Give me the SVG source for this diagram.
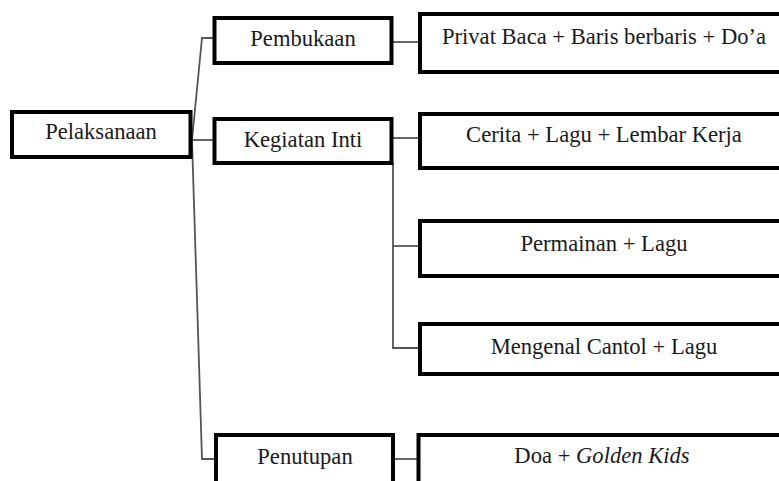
<svg xmlns="http://www.w3.org/2000/svg" width="779" height="481" viewBox="0 0 779 481">
<style>
.box{fill:#fff;stroke:#000;stroke-width:4}
.lbl{font-family:'Liberation Serif','Tinos','DejaVu Serif',serif;font-size:22.6px;fill:#1a1a1a;text-anchor:middle}
.con{fill:none;stroke:#555;stroke-width:1.8}
</style>
<rect width="779" height="481" fill="#fff"/>
<g id="connectors">
<path class="con" d="M214,38 H202 L192,140 L202,459 H216"/>
<path class="con" d="M192,140 H214"/>
<path class="con" d="M393,42 H420"/>
<path class="con" d="M393,138 H420"/>
<path class="con" d="M393,163 V348 H420"/>
<path class="con" d="M393,246 H420"/>
<path class="con" d="M393,459 H418"/>
</g>
<g id="pelaksanaan"><rect class="box" x="12" y="112" width="178.5" height="45"/><text class="lbl" x="101" y="139">Pelaksanaan</text></g>
<g id="pembukaan"><rect class="box" x="214.5" y="18" width="177" height="45"/><text class="lbl" x="303" y="46">Pembukaan</text></g>
<g id="kegiatan-inti"><rect class="box" x="214.5" y="119" width="177" height="44"/><text class="lbl" x="303" y="147">Kegiatan Inti</text></g>
<g id="penutupan"><rect class="box" x="216" y="435" width="177" height="60"/><text class="lbl" x="305" y="464">Penutupan</text></g>
<g id="privat"><rect class="box" x="420" y="14" width="372" height="58"/><text class="lbl" x="604" y="44">Privat Baca + Baris berbaris + Do’a</text></g>
<g id="cerita"><rect class="box" x="420" y="114" width="372" height="54"/><text class="lbl" x="604" y="142">Cerita + Lagu + Lembar Kerja</text></g>
<g id="permainan"><rect class="box" x="420" y="221" width="372" height="55"/><text class="lbl" x="604" y="251">Permainan + Lagu</text></g>
<g id="mengenal"><rect class="box" x="420" y="324" width="372" height="50"/><text class="lbl" x="604" y="354">Mengenal Cantol + Lagu</text></g>
<g id="doa"><rect class="box" x="418.5" y="435" width="372" height="60"/><text class="lbl" x="602" y="463">Doa + <tspan font-style="italic">Golden Kids</tspan></text></g>
</svg>
